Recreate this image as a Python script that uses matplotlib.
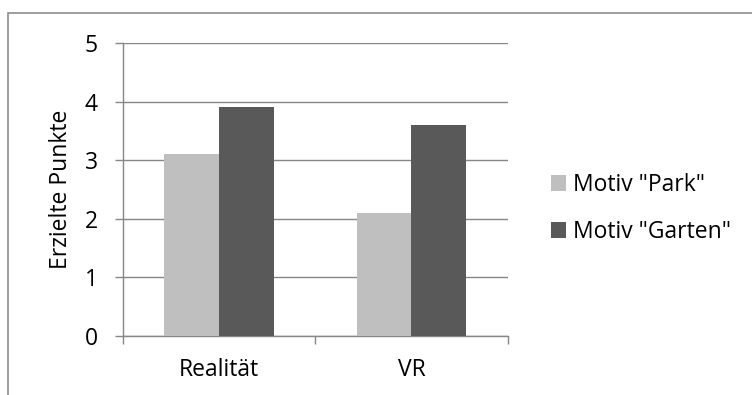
import numpy as np
import matplotlib.pyplot as plt
from matplotlib.patches import Rectangle

categories = ['Realität', 'VR']
park = [3.1, 2.1]
garten = [3.9, 3.6]
series_names = ['Motiv "Park"', 'Motiv "Garten"']

plt.rcParams['font.family'] = ['Open Sans', 'DejaVu Sans']

fig = plt.figure(figsize=(7.52, 3.95), dpi=100)
ax = fig.add_axes([0.1632, 0.1501, 0.512, 0.741])

grid_c = '#868686'
fs = 16.5
x = np.arange(len(categories))
w = 0.285
b1 = ax.bar(x - w / 2, park, w, color='#BFBFBF', zorder=3, label=series_names[0])
b2 = ax.bar(x + w / 2, garten, w, color='#595959', zorder=3, label=series_names[1])

ax.set_xlim(-0.5, 1.5)
ax.set_ylim(0, 5)
ax.set_yticks(range(6))
ax.yaxis.grid(True, color=grid_c, linewidth=1, zorder=0)
ax.set_axisbelow(True)

# category labels, ticks sit between the groups
ax.set_xticks(x)
ax.set_xticklabels(categories)
ax.set_xticks([-0.5, 0.5, 1.5], minor=True)
ax.tick_params(axis='x', which='major', length=0, pad=16, labelsize=fs)
ax.tick_params(axis='x', which='minor', length=6, color=grid_c, width=1)
ax.tick_params(axis='y', length=6, color=grid_c, width=1, pad=12, labelsize=fs)

for s in ['top', 'right']:
    ax.spines[s].set_visible(False)
for s in ['left', 'bottom']:
    ax.spines[s].set_color(grid_c)
    ax.spines[s].set_linewidth(1)

ax.set_ylabel('Erzielte Punkte', fontsize=fs, labelpad=8)

fig.legend(handles=[b1, b2], labels=series_names, loc='center left',
           bbox_to_anchor=(0.733, 0.472), frameon=False, fontsize=fs,
           handlelength=0.65, handleheight=0.65, handletextpad=0.3,
           labelspacing=1.0, borderpad=0, borderaxespad=0)

# chart frame, cut off at right and bottom
fig.patches.append(Rectangle((8 / 752, -0.1), 1.2, 1 - 13 / 395 + 0.1,
                             transform=fig.transFigure, fill=False,
                             edgecolor='#8C8C8C', linewidth=1.2))

fig.savefig('out.png', dpi=100)
